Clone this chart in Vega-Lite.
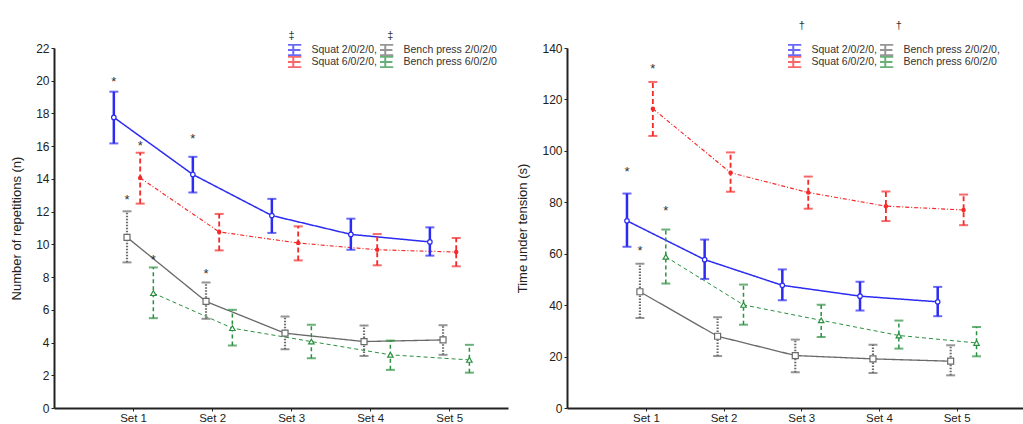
{
  "$schema": "https://vega.github.io/schema/vega-lite/v6.json",
  "background": "white",
  "padding": {"left": 10, "top": 20, "right": 0, "bottom": 0},
  "spacing": 8,
  "resolve": {"scale": {"color": "independent", "x": "independent", "xOffset": "independent", "y": "independent"}, "legend": {"color": "independent"}},
  "config": {
    "font": "Liberation Sans",
    "view": {"stroke": null},
    "axis": {"domainColor": "#222", "domainWidth": 2, "tickColor": "#222", "tickSize": 3, "tickWidth": 1, "labelPadding": 2, "labelOverlap": false, "labelFont": "Liberation Sans", "labelFontSize": 12, "labelColor": "#222", "titleFont": "Liberation Sans", "titleFontSize": 13, "titleFontWeight": "normal", "titleColor": "#222", "grid": false},
    "axisX": {"labelFontSize": 11.5, "labelPadding": 1},
    "legend": {"labelFont": "Liberation Sans", "labelFontSize": 10.5, "labelColor": "#333", "padding": 0, "columnPadding": 3, "rowPadding": 0, "clipHeight": 12, "symbolSize": 64, "symbolStrokeWidth": 2, "symbolType": "M-2,-1.3H2M0,-1.3V1.3M-2,1.3H2M-1.8,0H1.8", "symbolFillColor": "transparent", "labelLimit": 300, "labelOffset": 13, "direction": "vertical"}
  },
  "datasets": {
    "reps": [
      {"set": "Set 1", "series": "Squat 2/0/2/0", "mean": 17.76, "lo": 16.17, "hi": 19.33},
      {"set": "Set 2", "series": "Squat 2/0/2/0", "mean": 14.27, "lo": 13.17, "hi": 15.35},
      {"set": "Set 3", "series": "Squat 2/0/2/0", "mean": 11.76, "lo": 10.7, "hi": 12.78},
      {"set": "Set 4", "series": "Squat 2/0/2/0", "mean": 10.61, "lo": 9.67, "hi": 11.57},
      {"set": "Set 5", "series": "Squat 2/0/2/0", "mean": 10.15, "lo": 9.31, "hi": 11.04},
      {"set": "Set 1", "series": "Squat 6/0/2/0", "mean": 14.06, "lo": 12.49, "hi": 15.6},
      {"set": "Set 2", "series": "Squat 6/0/2/0", "mean": 10.76, "lo": 9.63, "hi": 11.86},
      {"set": "Set 3", "series": "Squat 6/0/2/0", "mean": 10.08, "lo": 9.02, "hi": 11.1},
      {"set": "Set 4", "series": "Squat 6/0/2/0", "mean": 9.67, "lo": 8.72, "hi": 10.63},
      {"set": "Set 5", "series": "Squat 6/0/2/0", "mean": 9.53, "lo": 8.66, "hi": 10.39},
      {"set": "Set 1", "series": "Bench press 2/0/2/0", "mean": 10.43, "lo": 8.9, "hi": 12.02},
      {"set": "Set 2", "series": "Bench press 2/0/2/0", "mean": 6.51, "lo": 5.45, "hi": 7.67},
      {"set": "Set 3", "series": "Bench press 2/0/2/0", "mean": 4.57, "lo": 3.59, "hi": 5.59},
      {"set": "Set 4", "series": "Bench press 2/0/2/0", "mean": 4.06, "lo": 3.18, "hi": 5.04},
      {"set": "Set 5", "series": "Bench press 2/0/2/0", "mean": 4.16, "lo": 3.25, "hi": 5.06},
      {"set": "Set 1", "series": "Bench press 6/0/2/0", "mean": 7.02, "lo": 5.49, "hi": 8.59},
      {"set": "Set 2", "series": "Bench press 6/0/2/0", "mean": 4.88, "lo": 3.82, "hi": 6.0},
      {"set": "Set 3", "series": "Bench press 6/0/2/0", "mean": 4.06, "lo": 3.04, "hi": 5.08},
      {"set": "Set 4", "series": "Bench press 6/0/2/0", "mean": 3.25, "lo": 2.33, "hi": 4.12},
      {"set": "Set 5", "series": "Bench press 6/0/2/0", "mean": 2.94, "lo": 2.16, "hi": 3.86}
    ],
    "tut": [
      {"set": "Set 1", "series": "Squat 2/0/2/0", "mean": 72.8, "lo": 62.7, "hi": 83.4},
      {"set": "Set 2", "series": "Squat 2/0/2/0", "mean": 57.7, "lo": 50.2, "hi": 65.5},
      {"set": "Set 3", "series": "Squat 2/0/2/0", "mean": 47.7, "lo": 41.9, "hi": 53.9},
      {"set": "Set 4", "series": "Squat 2/0/2/0", "mean": 43.5, "lo": 37.9, "hi": 49.1},
      {"set": "Set 5", "series": "Squat 2/0/2/0", "mean": 41.3, "lo": 35.7, "hi": 47.1},
      {"set": "Set 1", "series": "Squat 6/0/2/0", "mean": 116.4, "lo": 105.8, "hi": 126.8},
      {"set": "Set 2", "series": "Squat 6/0/2/0", "mean": 91.5, "lo": 84.1, "hi": 99.4},
      {"set": "Set 3", "series": "Squat 6/0/2/0", "mean": 83.8, "lo": 77.5, "hi": 90.0},
      {"set": "Set 4", "series": "Squat 6/0/2/0", "mean": 78.5, "lo": 72.7, "hi": 84.2},
      {"set": "Set 5", "series": "Squat 6/0/2/0", "mean": 77.0, "lo": 71.1, "hi": 83.0},
      {"set": "Set 1", "series": "Bench press 2/0/2/0", "mean": 45.2, "lo": 35.0, "hi": 56.1},
      {"set": "Set 2", "series": "Bench press 2/0/2/0", "mean": 27.9, "lo": 20.2, "hi": 35.3},
      {"set": "Set 3", "series": "Bench press 2/0/2/0", "mean": 20.4, "lo": 13.9, "hi": 26.6},
      {"set": "Set 4", "series": "Bench press 2/0/2/0", "mean": 19.1, "lo": 13.6, "hi": 24.6},
      {"set": "Set 5", "series": "Bench press 2/0/2/0", "mean": 18.2, "lo": 12.7, "hi": 24.4},
      {"set": "Set 1", "series": "Bench press 6/0/2/0", "mean": 58.8, "lo": 48.4, "hi": 69.4},
      {"set": "Set 2", "series": "Bench press 6/0/2/0", "mean": 40.1, "lo": 32.4, "hi": 48.0},
      {"set": "Set 3", "series": "Bench press 6/0/2/0", "mean": 34.1, "lo": 27.6, "hi": 40.2},
      {"set": "Set 4", "series": "Bench press 6/0/2/0", "mean": 28.2, "lo": 23.1, "hi": 34.0},
      {"set": "Set 5", "series": "Bench press 6/0/2/0", "mean": 25.3, "lo": 20.1, "hi": 31.5}
    ],
    "repsStars": [
      {"set": "Set 1", "series": "Squat 2/0/2/0", "y": 20.1, "sig": "*"},
      {"set": "Set 2", "series": "Squat 2/0/2/0", "y": 16.6, "sig": "*"},
      {"set": "Set 1", "series": "Squat 6/0/2/0", "y": 16.2, "sig": "*"},
      {"set": "Set 1", "series": "Bench press 2/0/2/0", "y": 12.9, "sig": "*"},
      {"set": "Set 1", "series": "Bench press 6/0/2/0", "y": 9.2, "sig": "*"},
      {"set": "Set 2", "series": "Bench press 2/0/2/0", "y": 8.4, "sig": "*"}
    ],
    "tutStars": [
      {"set": "Set 1", "series": "Squat 2/0/2/0", "y": 92.8, "sig": "*"},
      {"set": "Set 1", "series": "Squat 6/0/2/0", "y": 133.0, "sig": "*"},
      {"set": "Set 1", "series": "Bench press 6/0/2/0", "y": 77.9, "sig": "*"},
      {"set": "Set 1", "series": "Bench press 2/0/2/0", "y": 62.3, "sig": "*"}
    ]
  },
  "hconcat": [
    {
      "width": 454,
      "height": 360,
      "resolve": {"scale": {"strokeDash": "independent", "strokeWidth": "independent"}},
      "encoding": {
        "x": {"field": "set", "type": "ordinal", "scale": {"domain": ["Set 1", "Set 2", "Set 3", "Set 4", "Set 5"], "paddingInner": 0, "paddingOuter": 0.373, "align": 0.68}, "axis": {"title": null, "labelAngle": 0}},
        "xOffset": {"field": "series", "type": "nominal", "scale": {"domain": ["Squat 2/0/2/0", "Bench press 2/0/2/0", "Squat 6/0/2/0", "Bench press 6/0/2/0"], "paddingInner": 0, "paddingOuter": 1.3}},
        "color": {"field": "series", "type": "nominal", "scale": {"domain": ["Squat 2/0/2/0", "Squat 6/0/2/0", "Bench press 2/0/2/0", "Bench press 6/0/2/0"], "range": ["#2b2bf2", "#f52a2a", "#6a6a6a", "#2a9040"]}, "legend": {"title": null, "orient": "none", "legendX": 234, "legendY": -4, "columns": 2, "labelExpr": "indexof(datum.label, 'Squat') == 0 ? datum.label + ',' : datum.label"}}
      },
      "layer": [
        {
          "data": {"name": "reps"},
          "mark": {"type": "line"},
          "encoding": {
            "y": {"field": "mean", "type": "quantitative", "scale": {"domain": [0, 22], "nice": false}, "axis": {"title": "Number of repetitions (n)", "values": [0, 2, 4, 6, 8, 10, 12, 14, 16, 18, 20, 22], "labelOverlap": false, "titlePadding": 12}},
            "strokeDash": {"field": "series", "type": "nominal", "scale": {"domain": ["Squat 2/0/2/0", "Bench press 2/0/2/0", "Squat 6/0/2/0", "Bench press 6/0/2/0"], "range": [[1, 0], [1, 0], [4, 2, 1, 2], [4, 3]]}, "legend": null},
            "strokeWidth": {"field": "series", "type": "nominal", "scale": {"domain": ["Squat 2/0/2/0", "Bench press 2/0/2/0", "Squat 6/0/2/0", "Bench press 6/0/2/0"], "range": [1.5, 1, 1, 1]}, "legend": null}
          }
        },
        {
          "data": {"name": "reps"},
          "mark": {"type": "rule"},
          "encoding": {
            "y": {"field": "lo", "type": "quantitative", "axis": {"title": "Number of repetitions (n)", "values": [0, 2, 4, 6, 8, 10, 12, 14, 16, 18, 20, 22], "labelOverlap": false, "titlePadding": 12}},
            "y2": {"field": "hi"},
            "strokeDash": {"field": "series", "type": "nominal", "scale": {"domain": ["Squat 2/0/2/0", "Bench press 2/0/2/0", "Squat 6/0/2/0", "Bench press 6/0/2/0"], "range": [[1, 0], [1.5, 1.5], [5, 3], [4, 3]]}, "legend": null},
            "strokeWidth": {"field": "series", "type": "nominal", "scale": {"domain": ["Squat 2/0/2/0", "Bench press 2/0/2/0", "Squat 6/0/2/0", "Bench press 6/0/2/0"], "range": [2.5, 1.5, 2, 1.5]}, "legend": null}
          }
        },
        {
          "data": {"name": "reps"},
          "mark": {"type": "tick", "size": 9, "thickness": 2},
          "encoding": {"y": {"field": "hi", "type": "quantitative", "axis": {"title": "Number of repetitions (n)", "values": [0, 2, 4, 6, 8, 10, 12, 14, 16, 18, 20, 22], "labelOverlap": false, "titlePadding": 12}}}
        },
        {
          "data": {"name": "reps"},
          "mark": {"type": "tick", "size": 9, "thickness": 2},
          "encoding": {"y": {"field": "lo", "type": "quantitative", "axis": {"title": "Number of repetitions (n)", "values": [0, 2, 4, 6, 8, 10, 12, 14, 16, 18, 20, 22], "labelOverlap": false, "titlePadding": 12}}}
        },
        {
          "data": {"name": "reps"},
          "transform": [{"filter": "datum.series == 'Squat 2/0/2/0'"}],
          "mark": {"type": "point", "shape": "circle", "size": 20, "filled": false, "fill": "white", "fillOpacity": 1, "strokeWidth": 1.2},
          "encoding": {"y": {"field": "mean", "type": "quantitative", "axis": {"title": "Number of repetitions (n)", "values": [0, 2, 4, 6, 8, 10, 12, 14, 16, 18, 20, 22], "labelOverlap": false, "titlePadding": 12}}}
        },
        {
          "data": {"name": "reps"},
          "transform": [{"filter": "datum.series == 'Bench press 2/0/2/0'"}],
          "mark": {"type": "point", "shape": "square", "size": 36, "filled": false, "fill": "white", "fillOpacity": 1, "strokeWidth": 1.2},
          "encoding": {"y": {"field": "mean", "type": "quantitative", "axis": {"title": "Number of repetitions (n)", "values": [0, 2, 4, 6, 8, 10, 12, 14, 16, 18, 20, 22], "labelOverlap": false, "titlePadding": 12}}}
        },
        {
          "data": {"name": "reps"},
          "transform": [{"filter": "datum.series == 'Bench press 6/0/2/0'"}],
          "mark": {"type": "point", "shape": "triangle-up", "size": 30, "filled": false, "fill": "white", "fillOpacity": 1, "strokeWidth": 1.2},
          "encoding": {"y": {"field": "mean", "type": "quantitative", "axis": {"title": "Number of repetitions (n)", "values": [0, 2, 4, 6, 8, 10, 12, 14, 16, 18, 20, 22], "labelOverlap": false, "titlePadding": 12}}}
        },
        {
          "data": {"name": "reps"},
          "transform": [{"filter": "datum.series == 'Squat 6/0/2/0'"}],
          "mark": {"type": "point", "filled": true, "shape": "circle", "size": 20, "opacity": 1},
          "encoding": {"y": {"field": "mean", "type": "quantitative", "axis": {"title": "Number of repetitions (n)", "values": [0, 2, 4, 6, 8, 10, 12, 14, 16, 18, 20, 22], "labelOverlap": false, "titlePadding": 12}}}
        },
        {
          "data": {"name": "repsStars"},
          "mark": {"type": "text", "fontSize": 13, "baseline": "middle", "dy": 3, "fill": "#333"},
          "encoding": {"y": {"field": "y", "type": "quantitative", "axis": {"title": "Number of repetitions (n)", "values": [0, 2, 4, 6, 8, 10, 12, 14, 16, 18, 20, 22], "labelOverlap": false, "titlePadding": 12}}, "text": {"field": "sig"}, "color": {"value": "#333"}}
        },
        {
          "data": {"values": [{"set": "Set 3", "y": 22.75, "sym": "‡"}]},
          "mark": {"type": "text", "fontSize": 11, "baseline": "middle", "fill": "#333"},
          "encoding": {"y": {"field": "y", "type": "quantitative", "axis": {"title": "Number of repetitions (n)", "values": [0, 2, 4, 6, 8, 10, 12, 14, 16, 18, 20, 22], "labelOverlap": false, "titlePadding": 12}}, "text": {"field": "sym"}, "color": {"value": "#333"}, "xOffset": null}
        },
        {
          "data": {"values": [{"set": "Set 4", "series": "Bench press 6/0/2/0", "y": 22.75, "sym": "‡"}]},
          "mark": {"type": "text", "fontSize": 11, "baseline": "middle", "fill": "#333"},
          "encoding": {"y": {"field": "y", "type": "quantitative", "axis": {"title": "Number of repetitions (n)", "values": [0, 2, 4, 6, 8, 10, 12, 14, 16, 18, 20, 22], "labelOverlap": false, "titlePadding": 12}}, "text": {"field": "sym"}, "color": {"value": "#333"}}
        }
      ]
    },
    {
      "width": 456,
      "height": 360,
      "resolve": {"scale": {"strokeDash": "independent", "strokeWidth": "independent"}},
      "encoding": {
        "x": {"field": "set", "type": "ordinal", "scale": {"domain": ["Set 1", "Set 2", "Set 3", "Set 4", "Set 5"], "paddingInner": 0, "paddingOuter": 0.435, "align": 0.6}, "axis": {"title": null, "labelAngle": 0}},
        "xOffset": {"field": "series", "type": "nominal", "scale": {"domain": ["Squat 2/0/2/0", "Bench press 2/0/2/0", "Squat 6/0/2/0", "Bench press 6/0/2/0"], "paddingInner": 0, "paddingOuter": 1.35}},
        "color": {"field": "series", "type": "nominal", "scale": {"domain": ["Squat 2/0/2/0", "Squat 6/0/2/0", "Bench press 2/0/2/0", "Bench press 6/0/2/0"], "range": ["#2b2bf2", "#f52a2a", "#6a6a6a", "#2a9040"]}, "legend": {"title": null, "orient": "none", "legendX": 221, "legendY": -4, "columns": 2, "labelExpr": "datum.label == 'Bench press 6/0/2/0' ? datum.label : datum.label + ','"}}
      },
      "layer": [
        {
          "data": {"name": "tut"},
          "mark": {"type": "line"},
          "encoding": {
            "y": {"field": "mean", "type": "quantitative", "scale": {"domain": [0, 140], "nice": false}, "axis": {"title": "Time under tension (s)", "values": [0, 20, 40, 60, 80, 100, 120, 140], "labelOverlap": false, "titlePadding": 12}},
            "strokeDash": {"field": "series", "type": "nominal", "scale": {"domain": ["Squat 2/0/2/0", "Bench press 2/0/2/0", "Squat 6/0/2/0", "Bench press 6/0/2/0"], "range": [[1, 0], [1, 0], [4, 2, 1, 2], [4, 3]]}, "legend": null},
            "strokeWidth": {"field": "series", "type": "nominal", "scale": {"domain": ["Squat 2/0/2/0", "Bench press 2/0/2/0", "Squat 6/0/2/0", "Bench press 6/0/2/0"], "range": [1.5, 1, 1, 1]}, "legend": null}
          }
        },
        {
          "data": {"name": "tut"},
          "mark": {"type": "rule"},
          "encoding": {
            "y": {"field": "lo", "type": "quantitative", "axis": {"title": "Time under tension (s)", "values": [0, 20, 40, 60, 80, 100, 120, 140], "labelOverlap": false, "titlePadding": 12}},
            "y2": {"field": "hi"},
            "strokeDash": {"field": "series", "type": "nominal", "scale": {"domain": ["Squat 2/0/2/0", "Bench press 2/0/2/0", "Squat 6/0/2/0", "Bench press 6/0/2/0"], "range": [[1, 0], [1.5, 1.5], [5, 3], [4, 3]]}, "legend": null},
            "strokeWidth": {"field": "series", "type": "nominal", "scale": {"domain": ["Squat 2/0/2/0", "Bench press 2/0/2/0", "Squat 6/0/2/0", "Bench press 6/0/2/0"], "range": [2.5, 1.5, 2, 1.5]}, "legend": null}
          }
        },
        {
          "data": {"name": "tut"},
          "mark": {"type": "tick", "size": 9, "thickness": 2},
          "encoding": {"y": {"field": "hi", "type": "quantitative", "axis": {"title": "Time under tension (s)", "values": [0, 20, 40, 60, 80, 100, 120, 140], "labelOverlap": false, "titlePadding": 12}}}
        },
        {
          "data": {"name": "tut"},
          "mark": {"type": "tick", "size": 9, "thickness": 2},
          "encoding": {"y": {"field": "lo", "type": "quantitative", "axis": {"title": "Time under tension (s)", "values": [0, 20, 40, 60, 80, 100, 120, 140], "labelOverlap": false, "titlePadding": 12}}}
        },
        {
          "data": {"name": "tut"},
          "transform": [{"filter": "datum.series == 'Squat 2/0/2/0'"}],
          "mark": {"type": "point", "shape": "circle", "size": 20, "filled": false, "fill": "white", "fillOpacity": 1, "strokeWidth": 1.2},
          "encoding": {"y": {"field": "mean", "type": "quantitative", "axis": {"title": "Time under tension (s)", "values": [0, 20, 40, 60, 80, 100, 120, 140], "labelOverlap": false, "titlePadding": 12}}}
        },
        {
          "data": {"name": "tut"},
          "transform": [{"filter": "datum.series == 'Bench press 2/0/2/0'"}],
          "mark": {"type": "point", "shape": "square", "size": 36, "filled": false, "fill": "white", "fillOpacity": 1, "strokeWidth": 1.2},
          "encoding": {"y": {"field": "mean", "type": "quantitative", "axis": {"title": "Time under tension (s)", "values": [0, 20, 40, 60, 80, 100, 120, 140], "labelOverlap": false, "titlePadding": 12}}}
        },
        {
          "data": {"name": "tut"},
          "transform": [{"filter": "datum.series == 'Bench press 6/0/2/0'"}],
          "mark": {"type": "point", "shape": "triangle-up", "size": 30, "filled": false, "fill": "white", "fillOpacity": 1, "strokeWidth": 1.2},
          "encoding": {"y": {"field": "mean", "type": "quantitative", "axis": {"title": "Time under tension (s)", "values": [0, 20, 40, 60, 80, 100, 120, 140], "labelOverlap": false, "titlePadding": 12}}}
        },
        {
          "data": {"name": "tut"},
          "transform": [{"filter": "datum.series == 'Squat 6/0/2/0'"}],
          "mark": {"type": "point", "filled": true, "shape": "circle", "size": 20, "opacity": 1},
          "encoding": {"y": {"field": "mean", "type": "quantitative", "axis": {"title": "Time under tension (s)", "values": [0, 20, 40, 60, 80, 100, 120, 140], "labelOverlap": false, "titlePadding": 12}}}
        },
        {
          "data": {"name": "tutStars"},
          "mark": {"type": "text", "fontSize": 13, "baseline": "middle", "dy": 3, "fill": "#333"},
          "encoding": {"y": {"field": "y", "type": "quantitative", "axis": {"title": "Time under tension (s)", "values": [0, 20, 40, 60, 80, 100, 120, 140], "labelOverlap": false, "titlePadding": 12}}, "text": {"field": "sig"}, "color": {"value": "#333"}}
        },
        {
          "data": {"values": [{"set": "Set 3", "y": 148.5, "sym": "†"}]},
          "mark": {"type": "text", "fontSize": 11, "baseline": "middle", "fill": "#333"},
          "encoding": {"y": {"field": "y", "type": "quantitative", "axis": {"title": "Time under tension (s)", "values": [0, 20, 40, 60, 80, 100, 120, 140], "labelOverlap": false, "titlePadding": 12}}, "text": {"field": "sym"}, "color": {"value": "#333"}, "xOffset": null}
        },
        {
          "data": {"values": [{"set": "Set 4", "series": "Bench press 6/0/2/0", "y": 148.5, "sym": "†"}]},
          "mark": {"type": "text", "fontSize": 11, "baseline": "middle", "fill": "#333"},
          "encoding": {"y": {"field": "y", "type": "quantitative", "axis": {"title": "Time under tension (s)", "values": [0, 20, 40, 60, 80, 100, 120, 140], "labelOverlap": false, "titlePadding": 12}}, "text": {"field": "sym"}, "color": {"value": "#333"}}
        }
      ]
    }
  ]
}
